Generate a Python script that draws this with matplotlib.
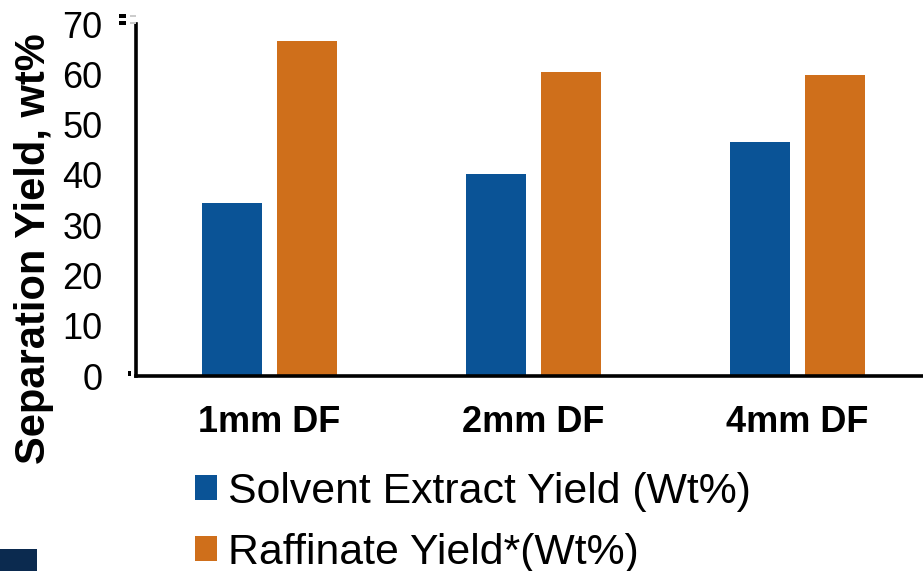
import matplotlib
matplotlib.use('Agg')
import matplotlib.pyplot as plt
import numpy as np
from matplotlib.patches import Rectangle

categories = ['1mm DF', '2mm DF', '4mm DF']
solvent_extract = [34.4, 40.2, 46.5]
raffinate = [66.6, 60.4, 59.8]
series_names = ['Solvent Extract Yield (Wt%)', 'Raffinate Yield*(Wt%)']
yticks = [0, 10, 20, 30, 40, 50, 60, 70]

BLUE = '#0a5396'
ORANGE = '#cf6f1b'

plt.rcParams['font.family'] = ['Liberation Sans', 'DejaVu Sans']

W, H = 923, 571
fig = plt.figure(figsize=(W / 100, H / 100), dpi=100)
ax = fig.add_axes([136 / W, 1 - 376 / H, 1 - 136 / W, (376 - 24) / H])

x = np.arange(len(categories))
bw = 0.225
b1 = ax.bar(x - 0.143, solvent_extract, bw, color=BLUE, label=series_names[0])
b2 = ax.bar(x + 0.142, raffinate, bw, color=ORANGE, label=series_names[1])

ax.set_xlim(-0.506, 2.475)
ax.set_ylim(0, 70)
ax.set_yticks(yticks)
ax.set_xticks(x)
ax.set_xticklabels(categories, fontsize=26, fontweight='bold')
ax.tick_params(axis='y', length=0, pad=24, labelsize=26)
ax.tick_params(axis='x', length=0, pad=21)
for s in ['top', 'right']:
    ax.spines[s].set_visible(False)
for s in ['left', 'bottom']:
    ax.spines[s].set_linewidth(2.6)

fig.text(34 / W, 1 - 249 / H, 'Separation Yield, wt%', rotation=90,
         fontsize=30, fontweight='bold', ha='center', va='center')

# legend below the plot
fig.legend(handles=[b1, b2], labels=series_names, loc='upper left',
           bbox_to_anchor=(195 / W, 1 - 472 / H), frameon=False, fontsize=30.8,
           handlelength=0.52, handleheight=0.52, handletextpad=0.25,
           labelspacing=0.48, borderaxespad=0, borderpad=0)

# small marks left of the axis
for (x0, y0, w, h, c) in [(119, 14, 7, 4, 'black'), (119, 21, 7, 4, 'black'),
                          (130, 15, 6, 2, '#cccccc'), (130, 22, 6, 2, '#cccccc'),
                          (128, 371, 3, 5, 'black')]:
    fig.patches.append(Rectangle((x0 / W, 1 - (y0 + h) / H), w / W, h / H,
                                 transform=fig.transFigure, color=c, lw=0))
fig.patches.append(Rectangle((0, 0), 37 / W, 22 / H, transform=fig.transFigure,
                             color='#0b2a4f', lw=0))

fig.savefig('out.png', dpi=100)
